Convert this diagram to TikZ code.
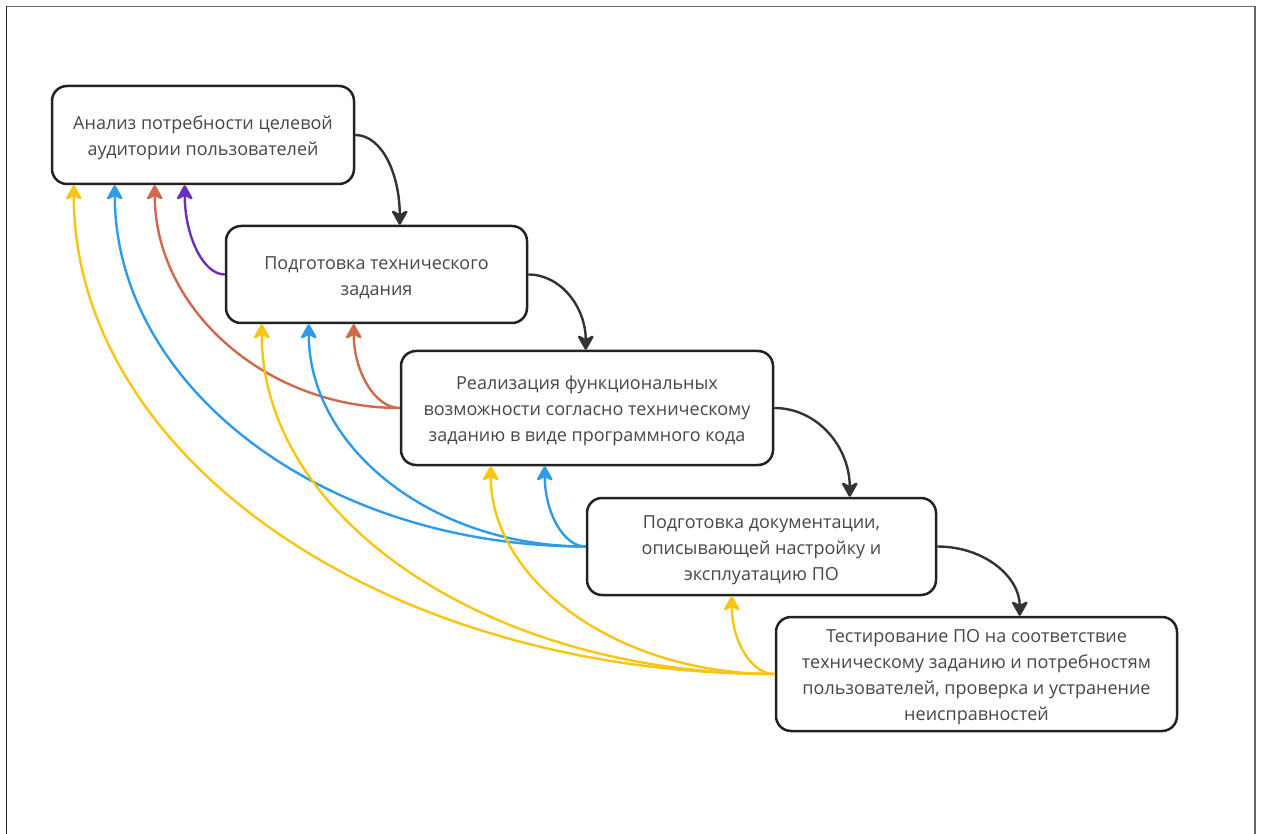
\documentclass[tikz,border=0pt]{standalone}
\usepackage{fontspec}
\setmainfont{Open Sans}
\usetikzlibrary{arrows.meta}
\definecolor{txt}{HTML}{474747}
\definecolor{edge}{HTML}{222222}
\definecolor{fwd}{HTML}{333333}
\definecolor{cyel}{HTML}{F9C513}
\definecolor{cblue}{HTML}{2E9BEA}
\definecolor{corg}{HTML}{D0694B}
\definecolor{cpur}{HTML}{6A2FBF}
\tikzset{
  stage/.style={draw=edge, line width=2.5pt, rounded corners=15pt, fill=white,
    inner sep=0pt, align=center, text=txt,
    font=\fontsize{18}{26}\selectfont},
  link/.style={line width=2.4pt, -{Stealth[length=17pt,width=19pt,inset=5pt,round]}},
  fwdlink/.style={link, draw=fwd},
}
\begin{document}
\begin{tikzpicture}[x=1pt,y=-1pt]
\useasboundingbox (0,0) rectangle (1262,834);
% frame
\draw[line width=1.5pt, color=black!85] (6.5,834) -- (6.5,6.5);
\draw[line width=1.5pt, color=black!60] (6.5,6.5) -- (1255,6.5) -- (1255,834);

\node[stage, minimum width=302, minimum height=98] (A) at (203,135)
  {\rule{0pt}{20pt}Анализ потребности целевой\\аудитории пользователей};
\node[stage, minimum width=301, minimum height=97] (B) at (376.5,274.5)
  {\rule{0pt}{20pt}Подготовка технического\\задания};
\node[stage, minimum width=372, minimum height=114] (C) at (587,408)
  {\rule{0pt}{20pt}Реализация функциональных\\возможности согласно техническому\\заданию в виде программного кода};
\node[stage, minimum width=349, minimum height=97] (D) at (761.5,546.5)
  {\rule{0pt}{20pt}Подготовка документации,\\описывающей настройку и\\эксплуатацию ПО};
\node[stage, minimum width=401, minimum height=114] (E) at (976.5,674)
  {\rule{0pt}{20pt}Тестирование ПО на соответствие\\техническому заданию и потребностям\\пользователей, проверка и устранение\\неисправностей};

% forward arrows
\draw[fwdlink] (A.east) .. controls +(27,0) and +(0,-50) .. ([xshift=175pt]B.north west);
\draw[fwdlink] (B.east) .. controls +(33,0) and +(0,-42) .. ([xshift=186pt]C.north west);
\draw[fwdlink] (C.east) .. controls +(43,0) and +(0,-50) .. ([xshift=264pt]D.north west);
\draw[fwdlink] (D.east) .. controls +(47,0) and +(0,-39) .. ([xshift=245pt]E.north west);

% feedback arrows
\draw[link, draw=cpur] (B.west) .. controls +(-22,0) and +(0,50) .. ([xshift=134pt]A.south west);

\draw[link, draw=corg] (C.west) .. controls +(-134,0) and +(0,124) .. ([xshift=104pt]A.south west);
\draw[link, draw=corg] (C.west) .. controls +(-25,0) and +(0,47) .. ([xshift=129pt]B.south west);

\draw[link, draw=cblue] (D.west) .. controls +(-265,0) and +(0,200) .. ([xshift=64pt]A.south west);
\draw[link, draw=cblue] (D.west) .. controls +(-153,0) and +(0,124) .. ([xshift=84pt]B.south west);
\draw[link, draw=cblue] (D.west) .. controls +(-23,0) and +(0,45) .. ([xshift=145pt]C.south west);

\draw[link, draw=cyel] (E.west) .. controls +(-392,0) and +(0,272) .. ([xshift=23pt]A.south west);
\draw[link, draw=cyel] (E.west) .. controls +(-285,0) and +(0,195) .. ([xshift=37pt]B.south west);
\draw[link, draw=cyel] (E.west) .. controls +(-157,0) and +(0,115) .. ([xshift=91pt]C.south west);
\draw[link, draw=cyel] (E.west) .. controls +(-24,0) and +(0,44) .. ([xshift=146pt]D.south west);
\end{tikzpicture}
\end{document}
